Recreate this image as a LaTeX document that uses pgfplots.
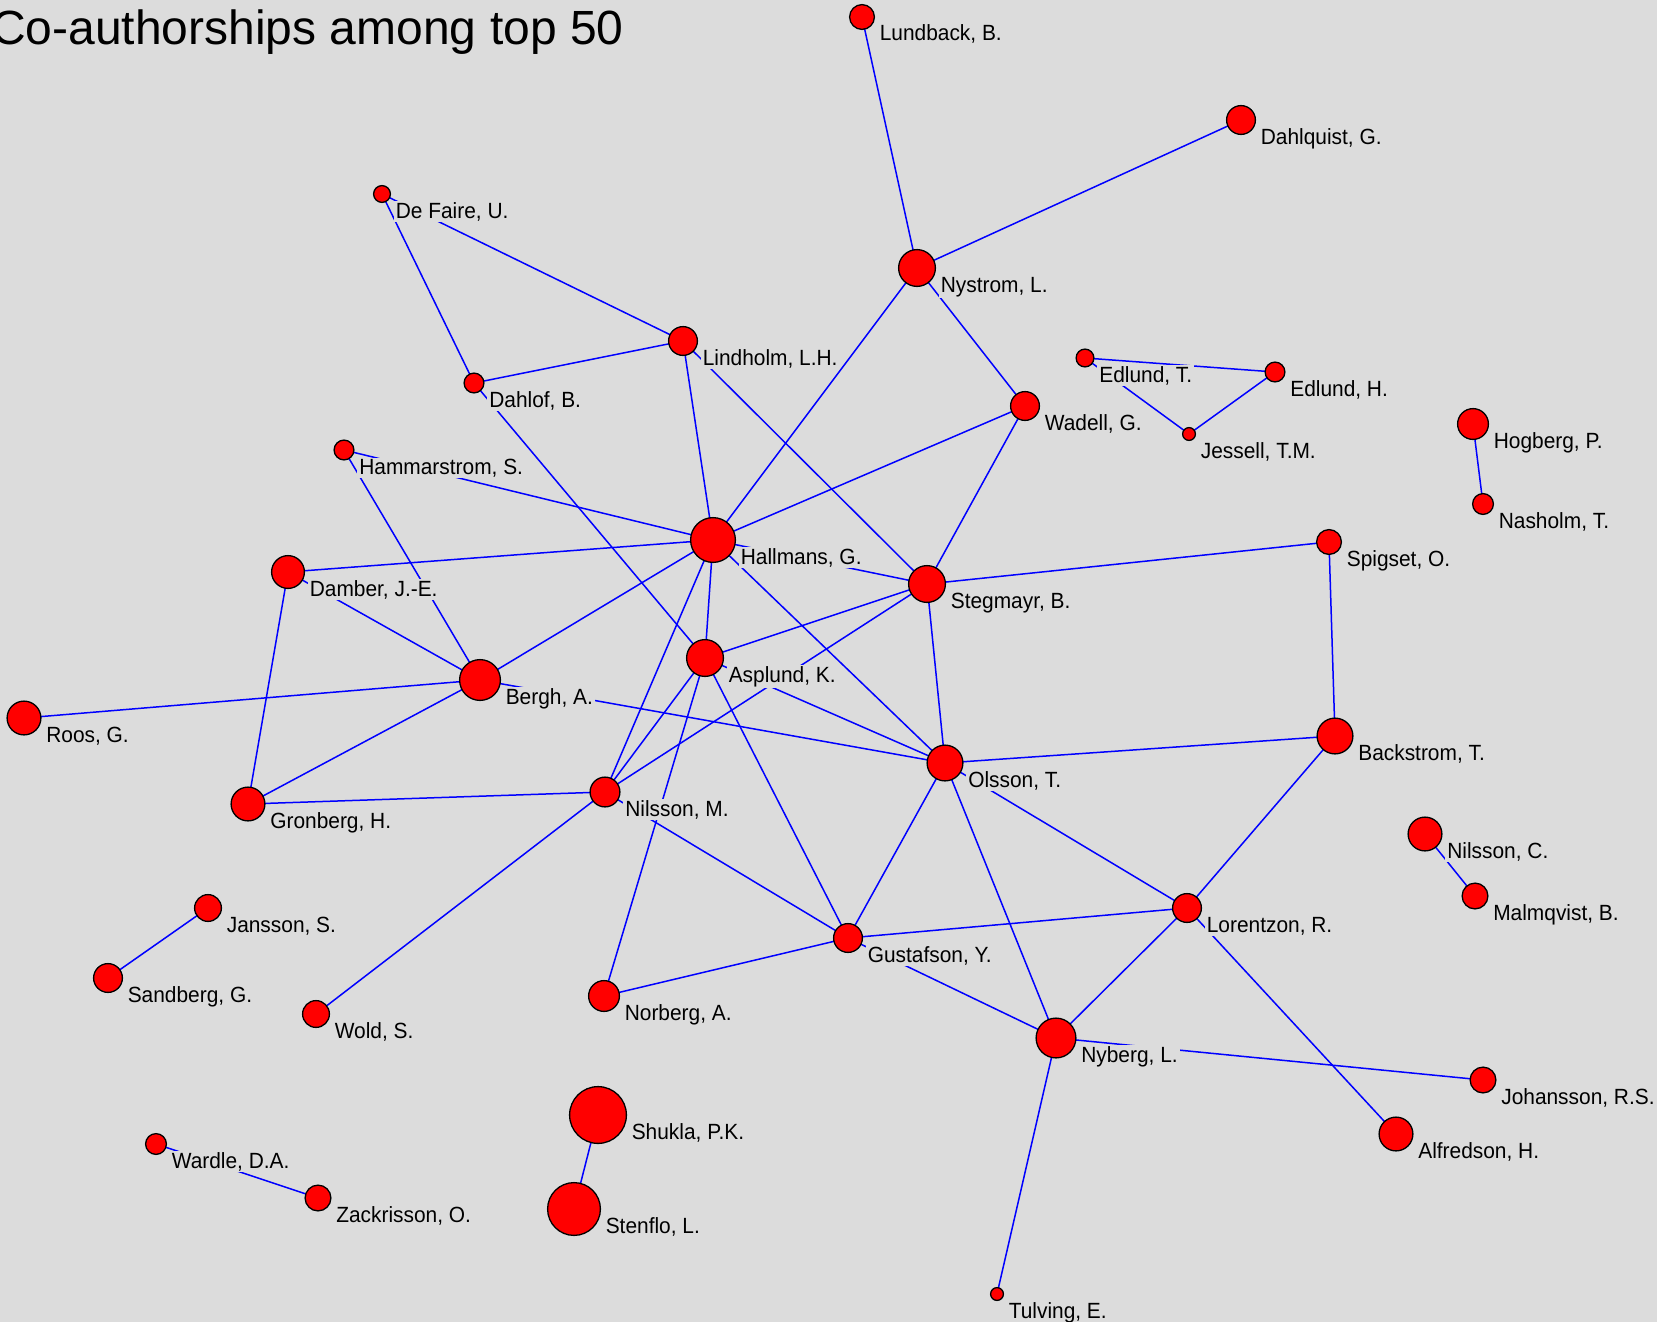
\documentclass[border=0pt]{standalone}
\usepackage{pgfplots}
\pgfplotsset{compat=1.18}
\usepackage{pgfplotstable}
\usepackage{fontspec}
\usetikzlibrary{backgrounds}
\setmainfont{Liberation Sans}
\newfontfamily\labelfont{Liberation Sans}[FakeStretch=0.95]
\definecolor{bg}{RGB}{220,220,220}
\definecolor{edgeblue}{RGB}{0,0,255}
\definecolor{nodered}{RGB}{255,0,0}

\pgfplotstableread[col sep=semicolon]{
name;x;y;r
Lundback, B.;862;17;13
Dahlquist, G.;1241;120;15
Nystrom, L.;917;268;19
De Faire, U.;382;194;9
Dahlof, B.;474;383;10.5
Hammarstrom, S.;344;450;10.5
Damber, J.-E.;288;572;17
Lindholm, L.H.;683;341;15
Hallmans, G.;713;540;23
Stegmayr, B.;927;584;19
Wadell, G.;1025;406;15
Edlund, T.;1085;358;9.5
Edlund, H.;1275;372;10.5
Jessell, T.M.;1189;434;7
Spigset, O.;1329;542;13
Hogberg, P.;1473;424;16
Nasholm, T.;1483;504;11
Asplund, K.;705;658;19
Bergh, A.;480;680;21
Roos, G.;24;718;17.5
Gronberg, H.;248;804;17.5
Jansson, S.;208;908;14
Sandberg, G.;108;978;15
Wold, S.;316;1014;14
Nilsson, M.;605;792;15.5
Olsson, T.;945;763;18.5
Backstrom, T.;1335;736;18.5
Lorentzon, R.;1187;908;15
Gustafson, Y.;848;938;15
Nyberg, L.;1056;1038;20.5
Norberg, A.;604;996;16
Nilsson, C.;1425;834;17.5
Malmqvist, B.;1475;896;13.5
Johansson, R.S.;1483;1080;13.5
Alfredson, H.;1396;1134;17.5
Wardle, D.A.;156;1144;11
Zackrisson, O.;318;1198;13.5
Shukla, P.K.;598;1115;29
Stenflo, L.;574;1209;27
Tulving, E.;997;1294;7
}\authors

\begin{document}
\begin{tikzpicture}
\begin{axis}[
  width=1657pt, height=1322pt, scale only axis,
  xmin=0, xmax=1657, ymin=0, ymax=1322, y dir=reverse,
  axis lines=none,
  clip=true,
  edge/.style={edgeblue, line width=1.5pt, mark=none, forget plot},
  nd/.style={only marks, mark=*, mark size=#1,
    mark options={fill=nodered, draw=black, line width=1.3pt}, forget plot},
]
\coordinate (A) at (axis cs:0,0);
\coordinate (B) at (axis cs:1657,1322);

\addplot[edge] coordinates {(862,17)(917,268)};
\addplot[edge] coordinates {(1241,120)(917,268)};
\addplot[edge] coordinates {(917,268)(713,540)};
\addplot[edge] coordinates {(917,268)(1025,406)};
\addplot[edge] coordinates {(382,194)(474,383)};
\addplot[edge] coordinates {(382,194)(683,341)};
\addplot[edge] coordinates {(474,383)(683,341)};
\addplot[edge] coordinates {(474,383)(705,658)};
\addplot[edge] coordinates {(683,341)(713,540)};
\addplot[edge] coordinates {(683,341)(927,584)};
\addplot[edge] coordinates {(1025,406)(713,540)};
\addplot[edge] coordinates {(1025,406)(927,584)};
\addplot[edge] coordinates {(1085,358)(1275,372)};
\addplot[edge] coordinates {(1085,358)(1189,434)};
\addplot[edge] coordinates {(1275,372)(1189,434)};
\addplot[edge] coordinates {(1473,424)(1483,504)};
\addplot[edge] coordinates {(344,450)(713,540)};
\addplot[edge] coordinates {(344,450)(480,680)};
\addplot[edge] coordinates {(713,540)(288,572)};
\addplot[edge] coordinates {(713,540)(480,680)};
\addplot[edge] coordinates {(713,540)(927,584)};
\addplot[edge] coordinates {(713,540)(705,658)};
\addplot[edge] coordinates {(713,540)(605,792)};
\addplot[edge] coordinates {(713,540)(945,763)};
\addplot[edge] coordinates {(1329,542)(927,584)};
\addplot[edge] coordinates {(1329,542)(1335,736)};
\addplot[edge] coordinates {(288,572)(480,680)};
\addplot[edge] coordinates {(288,572)(248,804)};
\addplot[edge] coordinates {(927,584)(705,658)};
\addplot[edge] coordinates {(927,584)(945,763)};
\addplot[edge] coordinates {(927,584)(605,792)};
\addplot[edge] coordinates {(705,658)(605,792)};
\addplot[edge] coordinates {(705,658)(604,996)};
\addplot[edge] coordinates {(705,658)(848,938)};
\addplot[edge] coordinates {(705,658)(945,763)};
\addplot[edge] coordinates {(480,680)(24,718)};
\addplot[edge] coordinates {(480,680)(248,804)};
\addplot[edge] coordinates {(480,680)(945,763)};
\addplot[edge] coordinates {(1335,736)(945,763)};
\addplot[edge] coordinates {(1335,736)(1187,908)};
\addplot[edge] coordinates {(945,763)(1187,908)};
\addplot[edge] coordinates {(945,763)(848,938)};
\addplot[edge] coordinates {(945,763)(1056,1038)};
\addplot[edge] coordinates {(605,792)(248,804)};
\addplot[edge] coordinates {(605,792)(316,1014)};
\addplot[edge] coordinates {(605,792)(848,938)};
\addplot[edge] coordinates {(1425,834)(1475,896)};
\addplot[edge] coordinates {(208,908)(108,978)};
\addplot[edge] coordinates {(1187,908)(848,938)};
\addplot[edge] coordinates {(1187,908)(1056,1038)};
\addplot[edge] coordinates {(1187,908)(1396,1134)};
\addplot[edge] coordinates {(848,938)(604,996)};
\addplot[edge] coordinates {(848,938)(1056,1038)};
\addplot[edge] coordinates {(1056,1038)(1483,1080)};
\addplot[edge] coordinates {(1056,1038)(997,1294)};
\addplot[edge] coordinates {(598,1115)(574,1209)};
\addplot[edge] coordinates {(156,1144)(318,1198)};

% labels (covering the edges beneath them)
\addplot[
  scatter, only marks, mark=*, mark size=0.5pt,
  point meta=explicit symbolic,
  visualization depends on={\thisrow{r}-0.6 \as \rad},
  nodes near coords,
  nodes near coords style={anchor=base west, xshift={\rad+3.2}, yshift=-24,
    font=\labelfont\fontsize{22}{26}\selectfont, text=black, fill=bg,
    inner xsep=2pt, inner ysep=1pt},
] table[x=x, y=y, meta=name] {\authors};

% nodes
\addplot[nd=12.4] coordinates {(862,17)};
\addplot[nd=14.4] coordinates {(1241,120)};
\addplot[nd=18.4] coordinates {(917,268)};
\addplot[nd=8.4] coordinates {(382,194)};
\addplot[nd=9.9] coordinates {(474,383)};
\addplot[nd=9.9] coordinates {(344,450)};
\addplot[nd=16.4] coordinates {(288,572)};
\addplot[nd=14.4] coordinates {(683,341)};
\addplot[nd=22.4] coordinates {(713,540)};
\addplot[nd=18.4] coordinates {(927,584)};
\addplot[nd=14.4] coordinates {(1025,406)};
\addplot[nd=8.9] coordinates {(1085,358)};
\addplot[nd=9.9] coordinates {(1275,372)};
\addplot[nd=6.4] coordinates {(1189,434)};
\addplot[nd=12.4] coordinates {(1329,542)};
\addplot[nd=15.4] coordinates {(1473,424)};
\addplot[nd=10.4] coordinates {(1483,504)};
\addplot[nd=18.4] coordinates {(705,658)};
\addplot[nd=20.4] coordinates {(480,680)};
\addplot[nd=16.9] coordinates {(24,718)};
\addplot[nd=16.9] coordinates {(248,804)};
\addplot[nd=13.4] coordinates {(208,908)};
\addplot[nd=14.4] coordinates {(108,978)};
\addplot[nd=13.4] coordinates {(316,1014)};
\addplot[nd=14.9] coordinates {(605,792)};
\addplot[nd=17.9] coordinates {(945,763)};
\addplot[nd=17.9] coordinates {(1335,736)};
\addplot[nd=14.4] coordinates {(1187,908)};
\addplot[nd=14.4] coordinates {(848,938)};
\addplot[nd=19.9] coordinates {(1056,1038)};
\addplot[nd=15.4] coordinates {(604,996)};
\addplot[nd=16.9] coordinates {(1425,834)};
\addplot[nd=12.9] coordinates {(1475,896)};
\addplot[nd=12.9] coordinates {(1483,1080)};
\addplot[nd=16.9] coordinates {(1396,1134)};
\addplot[nd=10.4] coordinates {(156,1144)};
\addplot[nd=12.9] coordinates {(318,1198)};
\addplot[nd=28.4] coordinates {(598,1115)};
\addplot[nd=26.4] coordinates {(574,1209)};
\addplot[nd=6.4] coordinates {(997,1294)};

\node[anchor=base west, inner sep=0pt, font=\fontsize{48}{57}\selectfont]
  at (axis cs:-9,45) {Co-authorships among top 50};
\end{axis}
\begin{scope}[on background layer]
\fill[bg] (A) rectangle (B);
\end{scope}
\pgfresetboundingbox
\path[use as bounding box] (A) rectangle (B);
\end{tikzpicture}
\end{document}
